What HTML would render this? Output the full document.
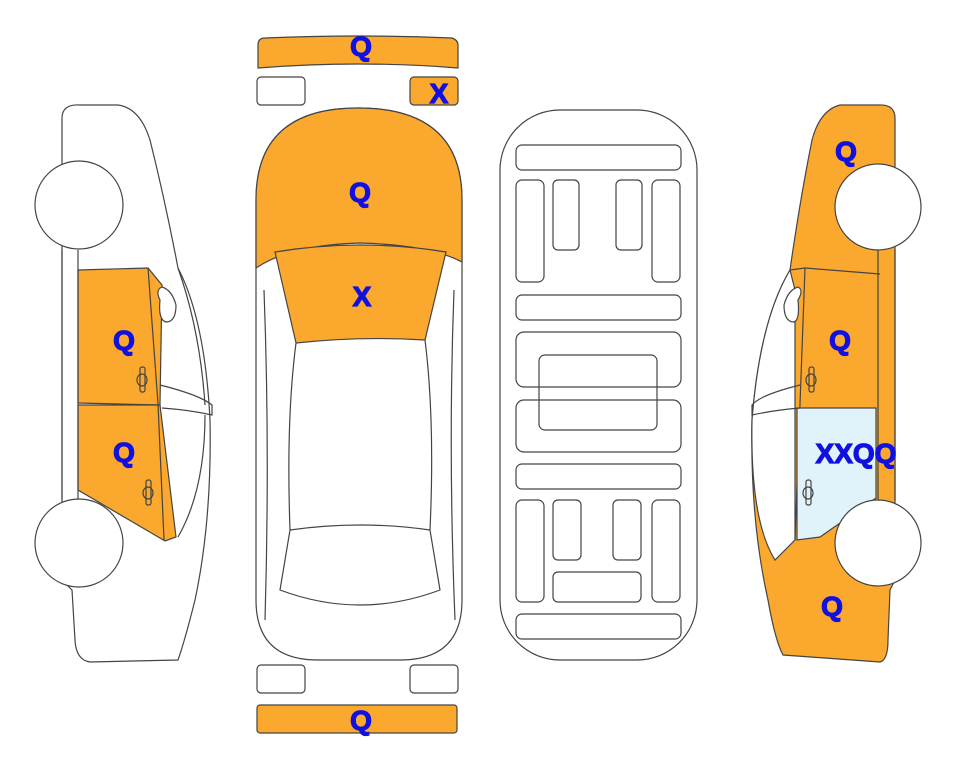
<!DOCTYPE html>
<html><head><style>body{margin:0;background:#fff}svg{display:block}text{font-family:"Liberation Sans",Arial,sans-serif;font-weight:bold;fill:#1010e0;stroke:#1010e0 !important;stroke-width:1.2px;font-size:28px;text-anchor:middle}</style></head>
<body>
<svg width="963" height="768" viewBox="0 0 963 768" fill="none" stroke="#444" stroke-width="1.2">
<!-- LEFT CAR -->
<path d="M62,118 Q62,104 80,105 L118,105 Q140,108 150,140 Q165,200 178,268 Q205,320 210,420 Q212,520 195,600 Q185,640 178,660 L90,662 Q76,660 75,640 L72,590 L62,580 L62,118Z" fill="#fff"/>
<path d="M78,270 L148,268 L162,285 L160,405 L78,403Z" fill="#FBA82F"/>
<path d="M78,405 L160,405 L176,537 L165,541 L78,490Z" fill="#FBA82F"/>
<path d="M148,268 L158,404 L164,540"/>
<path d="M160,300 Q155,290 162,287 Q172,290 176,305 Q176,322 166,322 Q158,320 160,300Z" fill="#fff"/>
<path d="M160,385 Q200,395 212,405 L212,415 Q190,410 162,408"/>
<path d="M178,268 Q200,330 205,405 M205,415 Q205,490 178,537"/>
<line x1="78" y1="250" x2="78" y2="500"/><line x1="62" y1="250" x2="62" y2="500"/>
<circle cx="79" cy="205" r="44" fill="#fff"/><circle cx="79" cy="543" r="44" fill="#fff"/>
<rect x="140" y="367" width="5" height="25" rx="2"/><ellipse cx="142" cy="380" rx="5" ry="6"/>
<rect x="146" y="480" width="5" height="25" rx="2"/><ellipse cx="148" cy="493" rx="5" ry="6"/>
<text x="124" y="350" stroke="none">Q</text><text x="124" y="462" stroke="none">Q</text>
<!-- TOP BUMPERS -->
<path d="M258,45 Q258,38 265,38 Q360,34 452,38 Q458,40 458,45 L458,68 Q360,60 258,68Z" fill="#FBA82F"/>
<rect x="257" y="77" width="48" height="28" rx="4" fill="#fff"/>
<rect x="410" y="77" width="48" height="28" rx="4" fill="#FBA82F"/>
<text x="361" y="56" stroke="none">Q</text><text x="439" y="103" stroke="none">X</text>
<rect x="257" y="665" width="48" height="28" rx="4" fill="#fff"/>
<rect x="410" y="665" width="48" height="28" rx="4" fill="#fff"/>
<rect x="257" y="705" width="200" height="28" rx="3" fill="#FBA82F"/>
<text x="361" y="730" stroke="none">Q</text>
<!-- TOP VIEW CAR -->
<path d="M256,200 Q256,108 358,108 Q462,108 462,200 L462,600 Q462,660 400,660 L318,660 Q256,660 256,600Z" fill="#fff"/>
<path d="M256,200 Q256,108 358,108 Q462,108 462,200 L462,262 Q430,245 360,243 Q290,245 256,268Z" fill="#FBA82F"/>
<path d="M275,252 Q360,238 446,252 L425,340 Q360,336 296,343Z" fill="#FBA82F"/>
<path d="M296,343 Q286,420 290,530 M425,340 Q435,420 430,530 M290,530 Q360,520 430,530 L440,590 Q360,620 280,590Z"/>
<path d="M264,290 Q270,450 265,620 M454,290 Q448,450 455,620"/>
<text x="360" y="202" stroke="none">Q</text><text x="362" y="306" stroke="none">X</text>
<!-- PLAN -->
<rect x="500" y="110" width="197" height="550" rx="60" fill="#fff"/>
<rect x="516" y="145" width="165" height="25" rx="6"/>
<rect x="516" y="180" width="28" height="102" rx="6"/><rect x="553" y="180" width="26" height="70" rx="5"/>
<rect x="616" y="180" width="26" height="70" rx="5"/><rect x="652" y="180" width="28" height="102" rx="6"/>
<rect x="516" y="295" width="165" height="25" rx="6"/>
<rect x="516" y="332" width="165" height="55" rx="8"/><rect x="539" y="355" width="118" height="75" rx="6"/>
<rect x="516" y="400" width="165" height="52" rx="8"/>
<rect x="516" y="464" width="165" height="25" rx="6"/>
<rect x="516" y="500" width="28" height="102" rx="6"/><rect x="553" y="500" width="28" height="60" rx="5"/>
<rect x="613" y="500" width="28" height="60" rx="5"/><rect x="652" y="500" width="28" height="102" rx="6"/>
<rect x="553" y="572" width="88" height="30" rx="5"/>
<rect x="516" y="614" width="165" height="25" rx="6"/>
<!-- RIGHT CAR -->
<path d="M895,118 Q895,104 878,105 L840,105 Q820,110 812,140 Q800,200 790,270 Q760,320 752,420 Q750,520 768,600 Q775,640 783,655 L880,662 Q888,660 888,640 L890,590 L895,580Z" fill="#FBA82F"/>
<path d="M790,270 Q760,320 752,420 Q750,520 775,560 L795,540 L795,290Z" fill="#fff"/>
<path d="M790,270 L805,268 L880,274 M805,268 L795,540"/>
<path d="M797,408 L876,408 L876,498 L820,537 L797,540Z" fill="#E0F3FB"/>
<path d="M798,300 Q804,290 798,287 Q788,290 784,305 Q784,322 794,322 Q800,320 798,300Z" fill="#fff"/>
<path d="M800,385 Q760,395 752,405 L752,415 Q775,410 800,408"/>
<line x1="878" y1="250" x2="878" y2="500"/><line x1="895" y1="250" x2="895" y2="500"/>
<circle cx="878" cy="207" r="43" fill="#fff"/><circle cx="878" cy="543" r="43" fill="#fff"/>
<rect x="809" y="367" width="5" height="25" rx="2"/><ellipse cx="811" cy="380" rx="5" ry="6"/>
<rect x="806" y="480" width="5" height="25" rx="2"/><ellipse cx="808" cy="493" rx="5" ry="6"/>
<text x="846" y="161" stroke="none">Q</text><text x="840" y="350" stroke="none">Q</text>
<text x="856" y="463" stroke="none">XXQQ</text><text x="832" y="616" stroke="none">Q</text>
</svg>
</body></html>
